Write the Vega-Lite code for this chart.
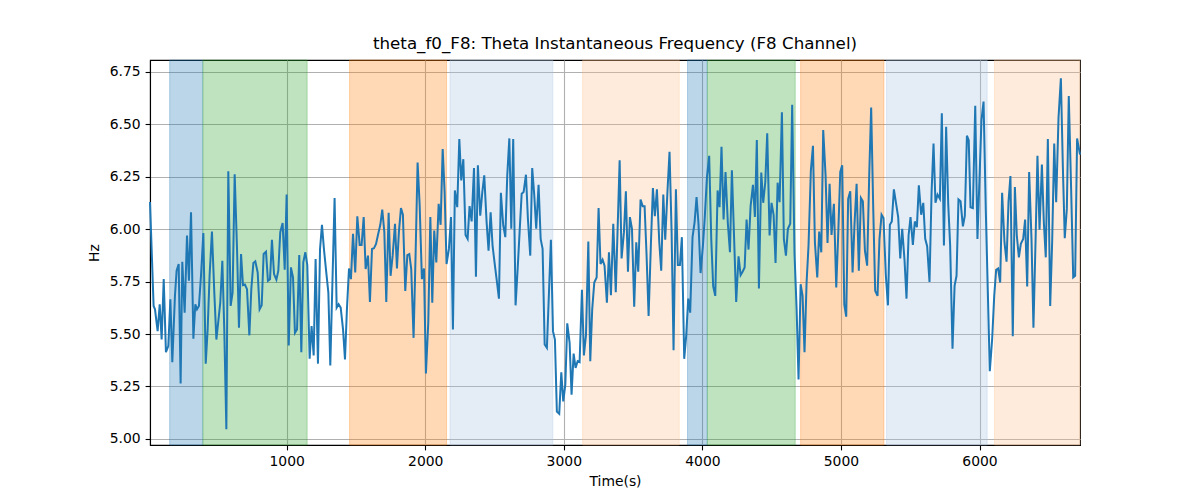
{
  "$schema": "https://vega.github.io/schema/vega-lite/v6.json",
  "description": "theta_f0_F8: Theta Instantaneous Frequency (F8 Channel)",
  "autosize": {"type": "none"},
  "width": 930,
  "height": 385,
  "padding": {"left": 150, "top": 60, "right": 120, "bottom": 55},
  "title": {
    "text": "theta_f0_F8: Theta Instantaneous Frequency (F8 Channel)",
    "fontSize": 16.7,
    "fontWeight": "normal",
    "font": "DejaVu Sans",
    "color": "black",
    "anchor": "middle",
    "offset": 7
  },
  "datasets": {
    "spans": [
      {"start": 156, "end": 394, "phase": "A"},
      {"start": 396, "end": 1148, "phase": "B"},
      {"start": 1454, "end": 2154, "phase": "C"},
      {"start": 2179, "end": 2921, "phase": "D"},
      {"start": 3136, "end": 3833, "phase": "E"},
      {"start": 3893, "end": 4035, "phase": "A"},
      {"start": 4036, "end": 4670, "phase": "B"},
      {"start": 4709, "end": 5310, "phase": "C"},
      {"start": 5329, "end": 6055, "phase": "D"},
      {"start": 6108, "end": 6725, "phase": "E"}
    ],
    "series": [
      {"t": 14, "hz": 6.13}, {"t": 40, "hz": 5.634}, {"t": 50, "hz": 5.618}, {"t": 69, "hz": 5.514},
      {"t": 84, "hz": 5.642}, {"t": 98, "hz": 5.474}, {"t": 113, "hz": 5.762}, {"t": 129, "hz": 5.414},
      {"t": 146, "hz": 5.443}, {"t": 161, "hz": 5.666}, {"t": 175, "hz": 5.366}, {"t": 194, "hz": 5.682},
      {"t": 206, "hz": 5.802}, {"t": 221, "hz": 5.834}, {"t": 235, "hz": 5.264}, {"t": 247, "hz": 5.845},
      {"t": 264, "hz": 5.602}, {"t": 281, "hz": 5.97}, {"t": 295, "hz": 5.754}, {"t": 310, "hz": 6.081},
      {"t": 327, "hz": 5.478}, {"t": 341, "hz": 5.642}, {"t": 353, "hz": 5.618}, {"t": 367, "hz": 5.634},
      {"t": 382, "hz": 5.778}, {"t": 399, "hz": 5.982}, {"t": 416, "hz": 5.359}, {"t": 430, "hz": 5.522},
      {"t": 444, "hz": 5.778}, {"t": 461, "hz": 5.989}, {"t": 478, "hz": 5.698}, {"t": 493, "hz": 5.474},
      {"t": 507, "hz": 5.562}, {"t": 521, "hz": 5.65}, {"t": 536, "hz": 5.85}, {"t": 550, "hz": 5.522},
      {"t": 565, "hz": 5.046}, {"t": 579, "hz": 6.276}, {"t": 596, "hz": 5.634}, {"t": 610, "hz": 5.698},
      {"t": 625, "hz": 6.262}, {"t": 642, "hz": 5.906}, {"t": 656, "hz": 5.53}, {"t": 671, "hz": 5.882},
      {"t": 685, "hz": 5.733}, {"t": 699, "hz": 5.736}, {"t": 714, "hz": 5.714}, {"t": 731, "hz": 5.494},
      {"t": 745, "hz": 5.714}, {"t": 760, "hz": 5.839}, {"t": 774, "hz": 5.847}, {"t": 791, "hz": 5.794},
      {"t": 805, "hz": 5.618}, {"t": 820, "hz": 5.637}, {"t": 834, "hz": 5.882}, {"t": 851, "hz": 5.893},
      {"t": 865, "hz": 5.754}, {"t": 880, "hz": 5.762}, {"t": 894, "hz": 5.95}, {"t": 909, "hz": 5.786},
      {"t": 926, "hz": 5.759}, {"t": 940, "hz": 5.802}, {"t": 954, "hz": 5.986}, {"t": 971, "hz": 6.03},
      {"t": 986, "hz": 5.807}, {"t": 1000, "hz": 6.165}, {"t": 1015, "hz": 5.446}, {"t": 1031, "hz": 5.818},
      {"t": 1046, "hz": 5.77}, {"t": 1060, "hz": 5.506}, {"t": 1075, "hz": 5.522}, {"t": 1091, "hz": 5.877},
      {"t": 1106, "hz": 5.414}, {"t": 1120, "hz": 5.842}, {"t": 1135, "hz": 5.89}, {"t": 1149, "hz": 5.829},
      {"t": 1166, "hz": 5.382}, {"t": 1180, "hz": 5.538}, {"t": 1195, "hz": 5.398}, {"t": 1209, "hz": 5.858},
      {"t": 1226, "hz": 5.359}, {"t": 1241, "hz": 5.906}, {"t": 1255, "hz": 6.021}, {"t": 1269, "hz": 5.906},
      {"t": 1286, "hz": 5.794}, {"t": 1301, "hz": 5.698}, {"t": 1315, "hz": 5.35}, {"t": 1346, "hz": 6.149},
      {"t": 1361, "hz": 5.626}, {"t": 1375, "hz": 5.642}, {"t": 1390, "hz": 5.626}, {"t": 1407, "hz": 5.522},
      {"t": 1421, "hz": 5.379}, {"t": 1435, "hz": 5.618}, {"t": 1450, "hz": 5.813}, {"t": 1464, "hz": 5.762},
      {"t": 1479, "hz": 5.978}, {"t": 1495, "hz": 5.794}, {"t": 1510, "hz": 6.062}, {"t": 1527, "hz": 5.925},
      {"t": 1541, "hz": 5.925}, {"t": 1556, "hz": 6.058}, {"t": 1570, "hz": 5.81}, {"t": 1587, "hz": 5.874},
      {"t": 1601, "hz": 5.653}, {"t": 1616, "hz": 5.906}, {"t": 1630, "hz": 5.909}, {"t": 1645, "hz": 5.93},
      {"t": 1661, "hz": 5.978}, {"t": 1676, "hz": 6.021}, {"t": 1690, "hz": 6.094}, {"t": 1705, "hz": 5.986},
      {"t": 1719, "hz": 5.653}, {"t": 1736, "hz": 6.078}, {"t": 1750, "hz": 5.778}, {"t": 1765, "hz": 5.874},
      {"t": 1782, "hz": 6.026}, {"t": 1796, "hz": 5.813}, {"t": 1810, "hz": 5.986}, {"t": 1825, "hz": 6.101},
      {"t": 1839, "hz": 6.069}, {"t": 1856, "hz": 5.706}, {"t": 1871, "hz": 5.877}, {"t": 1885, "hz": 5.882},
      {"t": 1899, "hz": 5.81}, {"t": 1916, "hz": 5.482}, {"t": 1931, "hz": 5.89}, {"t": 1945, "hz": 6.318},
      {"t": 1960, "hz": 6.113}, {"t": 1976, "hz": 5.762}, {"t": 1991, "hz": 5.813}, {"t": 2005, "hz": 5.312},
      {"t": 2022, "hz": 5.554}, {"t": 2037, "hz": 6.058}, {"t": 2051, "hz": 5.65}, {"t": 2065, "hz": 5.994},
      {"t": 2080, "hz": 5.842}, {"t": 2097, "hz": 6.121}, {"t": 2111, "hz": 6.021}, {"t": 2126, "hz": 6.382},
      {"t": 2140, "hz": 6.177}, {"t": 2154, "hz": 5.834}, {"t": 2171, "hz": 5.906}, {"t": 2186, "hz": 6.058},
      {"t": 2200, "hz": 5.522}, {"t": 2214, "hz": 6.185}, {"t": 2231, "hz": 6.105}, {"t": 2246, "hz": 6.43},
      {"t": 2260, "hz": 6.233}, {"t": 2275, "hz": 6.334}, {"t": 2291, "hz": 5.973}, {"t": 2306, "hz": 5.954},
      {"t": 2320, "hz": 6.11}, {"t": 2335, "hz": 6.037}, {"t": 2352, "hz": 6.292}, {"t": 2366, "hz": 5.773},
      {"t": 2380, "hz": 6.305}, {"t": 2397, "hz": 6.065}, {"t": 2412, "hz": 6.177}, {"t": 2426, "hz": 6.257},
      {"t": 2443, "hz": 6.034}, {"t": 2457, "hz": 5.898}, {"t": 2472, "hz": 6.081}, {"t": 2486, "hz": 5.922},
      {"t": 2503, "hz": 5.826}, {"t": 2518, "hz": 5.746}, {"t": 2532, "hz": 5.669}, {"t": 2546, "hz": 6.174},
      {"t": 2563, "hz": 6.018}, {"t": 2578, "hz": 5.962}, {"t": 2592, "hz": 6.257}, {"t": 2607, "hz": 6.433},
      {"t": 2621, "hz": 6.002}, {"t": 2635, "hz": 6.43}, {"t": 2652, "hz": 5.637}, {"t": 2667, "hz": 5.81},
      {"t": 2681, "hz": 5.986}, {"t": 2696, "hz": 6.169}, {"t": 2710, "hz": 6.177}, {"t": 2727, "hz": 6.26},
      {"t": 2741, "hz": 6.05}, {"t": 2758, "hz": 5.874}, {"t": 2772, "hz": 6.292}, {"t": 2787, "hz": 6.161},
      {"t": 2801, "hz": 6.002}, {"t": 2818, "hz": 6.212}, {"t": 2833, "hz": 5.954}, {"t": 2847, "hz": 5.906},
      {"t": 2862, "hz": 5.45}, {"t": 2878, "hz": 5.434}, {"t": 2893, "hz": 5.698}, {"t": 2907, "hz": 5.95},
      {"t": 2922, "hz": 5.514}, {"t": 2936, "hz": 5.474}, {"t": 2950, "hz": 5.131}, {"t": 2967, "hz": 5.12},
      {"t": 2982, "hz": 5.318}, {"t": 2996, "hz": 5.179}, {"t": 3011, "hz": 5.259}, {"t": 3025, "hz": 5.551},
      {"t": 3042, "hz": 5.458}, {"t": 3056, "hz": 5.211}, {"t": 3071, "hz": 5.407}, {"t": 3085, "hz": 5.339},
      {"t": 3100, "hz": 5.371}, {"t": 3114, "hz": 5.366}, {"t": 3131, "hz": 5.711}, {"t": 3145, "hz": 5.398},
      {"t": 3160, "hz": 5.494}, {"t": 3177, "hz": 5.941}, {"t": 3191, "hz": 5.371}, {"t": 3205, "hz": 5.618},
      {"t": 3220, "hz": 5.746}, {"t": 3237, "hz": 5.77}, {"t": 3251, "hz": 6.101}, {"t": 3265, "hz": 5.834},
      {"t": 3280, "hz": 5.855}, {"t": 3294, "hz": 5.826}, {"t": 3311, "hz": 5.65}, {"t": 3326, "hz": 5.89},
      {"t": 3340, "hz": 5.685}, {"t": 3357, "hz": 6.026}, {"t": 3375, "hz": 5.7}, {"t": 3403, "hz": 6.329},
      {"t": 3417, "hz": 5.861}, {"t": 3434, "hz": 5.986}, {"t": 3448, "hz": 6.181}, {"t": 3463, "hz": 5.797},
      {"t": 3477, "hz": 6.058}, {"t": 3492, "hz": 6.002}, {"t": 3508, "hz": 5.631}, {"t": 3523, "hz": 5.938},
      {"t": 3537, "hz": 5.797}, {"t": 3554, "hz": 6.142}, {"t": 3569, "hz": 6.11}, {"t": 3583, "hz": 6.11},
      {"t": 3597, "hz": 5.882}, {"t": 3612, "hz": 5.586}, {"t": 3629, "hz": 5.938}, {"t": 3643, "hz": 6.196},
      {"t": 3657, "hz": 6.062}, {"t": 3672, "hz": 6.19}, {"t": 3689, "hz": 5.938}, {"t": 3703, "hz": 5.802},
      {"t": 3718, "hz": 6.165}, {"t": 3732, "hz": 5.95}, {"t": 3749, "hz": 6.193}, {"t": 3763, "hz": 6.369},
      {"t": 3778, "hz": 5.986}, {"t": 3792, "hz": 5.423}, {"t": 3809, "hz": 6.19}, {"t": 3823, "hz": 5.829},
      {"t": 3838, "hz": 5.829}, {"t": 3852, "hz": 5.962}, {"t": 3869, "hz": 5.382}, {"t": 3883, "hz": 5.49},
      {"t": 3898, "hz": 5.669}, {"t": 3912, "hz": 5.602}, {"t": 3929, "hz": 5.962}, {"t": 3944, "hz": 6.034},
      {"t": 3958, "hz": 6.153}, {"t": 3972, "hz": 6.026}, {"t": 3987, "hz": 5.791}, {"t": 4004, "hz": 5.922},
      {"t": 4018, "hz": 6.065}, {"t": 4033, "hz": 6.249}, {"t": 4049, "hz": 6.35}, {"t": 4064, "hz": 5.954},
      {"t": 4078, "hz": 5.727}, {"t": 4093, "hz": 5.682}, {"t": 4110, "hz": 6.185}, {"t": 4124, "hz": 6.105},
      {"t": 4138, "hz": 6.393}, {"t": 4153, "hz": 6.046}, {"t": 4167, "hz": 6.273}, {"t": 4184, "hz": 6.026},
      {"t": 4199, "hz": 5.89}, {"t": 4213, "hz": 6.281}, {"t": 4244, "hz": 5.653}, {"t": 4261, "hz": 5.871},
      {"t": 4276, "hz": 5.781}, {"t": 4290, "hz": 5.797}, {"t": 4305, "hz": 5.818}, {"t": 4319, "hz": 6.046},
      {"t": 4333, "hz": 5.903}, {"t": 4348, "hz": 6.11}, {"t": 4365, "hz": 6.212}, {"t": 4379, "hz": 6.058},
      {"t": 4393, "hz": 6.425}, {"t": 4408, "hz": 5.717}, {"t": 4425, "hz": 6.27}, {"t": 4439, "hz": 6.126},
      {"t": 4454, "hz": 6.225}, {"t": 4468, "hz": 6.457}, {"t": 4485, "hz": 5.97}, {"t": 4499, "hz": 6.126},
      {"t": 4514, "hz": 6.069}, {"t": 4528, "hz": 5.839}, {"t": 4543, "hz": 6.222}, {"t": 4557, "hz": 6.129},
      {"t": 4574, "hz": 6.558}, {"t": 4588, "hz": 5.954}, {"t": 4603, "hz": 5.874}, {"t": 4617, "hz": 6.002},
      {"t": 4634, "hz": 6.026}, {"t": 4648, "hz": 6.593}, {"t": 4665, "hz": 5.882}, {"t": 4680, "hz": 5.618},
      {"t": 4694, "hz": 5.283}, {"t": 4709, "hz": 5.738}, {"t": 4723, "hz": 5.682}, {"t": 4737, "hz": 5.414},
      {"t": 4752, "hz": 5.746}, {"t": 4766, "hz": 5.922}, {"t": 4783, "hz": 6.281}, {"t": 4798, "hz": 6.398},
      {"t": 4812, "hz": 5.938}, {"t": 4829, "hz": 5.77}, {"t": 4843, "hz": 5.989}, {"t": 4858, "hz": 5.89},
      {"t": 4872, "hz": 6.473}, {"t": 4889, "hz": 6.257}, {"t": 4903, "hz": 5.935}, {"t": 4918, "hz": 6.217},
      {"t": 4932, "hz": 5.973}, {"t": 4949, "hz": 6.121}, {"t": 4966, "hz": 5.722}, {"t": 4980, "hz": 5.97},
      {"t": 4995, "hz": 6.273}, {"t": 5009, "hz": 6.305}, {"t": 5024, "hz": 5.642}, {"t": 5038, "hz": 5.583},
      {"t": 5052, "hz": 6.145}, {"t": 5067, "hz": 6.181}, {"t": 5084, "hz": 5.794}, {"t": 5098, "hz": 6.026},
      {"t": 5113, "hz": 6.217}, {"t": 5129, "hz": 5.802}, {"t": 5144, "hz": 6.149}, {"t": 5158, "hz": 6.133},
      {"t": 5173, "hz": 5.898}, {"t": 5189, "hz": 5.826}, {"t": 5204, "hz": 6.257}, {"t": 5218, "hz": 6.58},
      {"t": 5233, "hz": 6.097}, {"t": 5247, "hz": 5.706}, {"t": 5264, "hz": 5.682}, {"t": 5278, "hz": 5.954},
      {"t": 5293, "hz": 6.069}, {"t": 5307, "hz": 6.053}, {"t": 5324, "hz": 5.778}, {"t": 5339, "hz": 5.637},
      {"t": 5353, "hz": 6.021}, {"t": 5367, "hz": 6.037}, {"t": 5382, "hz": 6.19}, {"t": 5399, "hz": 6.117},
      {"t": 5413, "hz": 6.058}, {"t": 5428, "hz": 5.861}, {"t": 5442, "hz": 6.002}, {"t": 5459, "hz": 5.85},
      {"t": 5473, "hz": 5.669}, {"t": 5488, "hz": 5.97}, {"t": 5502, "hz": 6.058}, {"t": 5519, "hz": 5.925},
      {"t": 5533, "hz": 6.037}, {"t": 5548, "hz": 6.01}, {"t": 5562, "hz": 6.209}, {"t": 5579, "hz": 6.069},
      {"t": 5594, "hz": 6.126}, {"t": 5608, "hz": 5.954}, {"t": 5622, "hz": 5.919}, {"t": 5639, "hz": 5.749},
      {"t": 5654, "hz": 6.177}, {"t": 5668, "hz": 6.409}, {"t": 5682, "hz": 6.126}, {"t": 5697, "hz": 6.165},
      {"t": 5714, "hz": 6.145}, {"t": 5728, "hz": 6.553}, {"t": 5743, "hz": 5.922}, {"t": 5759, "hz": 6.489},
      {"t": 5774, "hz": 6.121}, {"t": 5788, "hz": 5.922}, {"t": 5805, "hz": 5.43}, {"t": 5820, "hz": 5.73},
      {"t": 5834, "hz": 5.778}, {"t": 5848, "hz": 6.142}, {"t": 5863, "hz": 6.133}, {"t": 5880, "hz": 6.014},
      {"t": 5894, "hz": 6.065}, {"t": 5909, "hz": 6.446}, {"t": 5922, "hz": 6.425}, {"t": 5935, "hz": 6.105},
      {"t": 5952, "hz": 6.101}, {"t": 5969, "hz": 6.589}, {"t": 5985, "hz": 5.954}, {"t": 6014, "hz": 6.521},
      {"t": 6029, "hz": 6.609}, {"t": 6045, "hz": 6.097}, {"t": 6060, "hz": 5.698}, {"t": 6074, "hz": 5.323},
      {"t": 6091, "hz": 5.474}, {"t": 6106, "hz": 5.682}, {"t": 6120, "hz": 5.807}, {"t": 6134, "hz": 5.813},
      {"t": 6149, "hz": 5.746}, {"t": 6163, "hz": 6.174}, {"t": 6180, "hz": 5.938}, {"t": 6195, "hz": 5.845},
      {"t": 6209, "hz": 6.129}, {"t": 6223, "hz": 6.254}, {"t": 6240, "hz": 5.49}, {"t": 6255, "hz": 6.201},
      {"t": 6269, "hz": 5.97}, {"t": 6284, "hz": 5.866}, {"t": 6298, "hz": 5.93}, {"t": 6315, "hz": 5.954},
      {"t": 6329, "hz": 6.046}, {"t": 6344, "hz": 5.727}, {"t": 6358, "hz": 6.273}, {"t": 6375, "hz": 5.954},
      {"t": 6389, "hz": 5.53}, {"t": 6404, "hz": 5.938}, {"t": 6418, "hz": 6.35}, {"t": 6433, "hz": 5.998},
      {"t": 6450, "hz": 6.308}, {"t": 6464, "hz": 6.034}, {"t": 6478, "hz": 5.866}, {"t": 6493, "hz": 6.43},
      {"t": 6510, "hz": 5.634}, {"t": 6524, "hz": 5.938}, {"t": 6539, "hz": 6.409}, {"t": 6553, "hz": 6.129},
      {"t": 6570, "hz": 6.532}, {"t": 6587, "hz": 6.72}, {"t": 6601, "hz": 6.305}, {"t": 6615, "hz": 5.957},
      {"t": 6630, "hz": 6.097}, {"t": 6644, "hz": 6.635}, {"t": 6661, "hz": 6.193}, {"t": 6676, "hz": 5.77},
      {"t": 6690, "hz": 5.778}, {"t": 6704, "hz": 6.433}, {"t": 6725, "hz": 6.356}
    ]
  },
  "layer": [
    {
      "data": {"name": "spans"},
      "mark": {"type": "rect", "fillOpacity": 0.3, "strokeOpacity": 0.3, "strokeWidth": 1},
      "encoding": {
        "x": {
          "field": "start",
          "type": "quantitative",
          "scale": {"domain": [14, 6725], "nice": false, "zero": false},
          "axis": {"title": "Time(s)", "values": [1000, 2000, 3000, 4000, 5000, 6000], "format": "d"}
        },
        "x2": {"field": "end"},
        "fill": {
          "field": "phase",
          "type": "nominal",
          "scale": {"domain": ["A", "B", "C", "D", "E"], "range": ["#1f77b4", "#2ca02c", "#ff7f0e", "#a5c0e1", "#ffbc87"]},
          "legend": null
        },
        "stroke": {
          "field": "phase",
          "type": "nominal",
          "scale": {"domain": ["A", "B", "C", "D", "E"], "range": ["#1f77b4", "#2ca02c", "#ff7f0e", "#a5c0e1", "#ffbc87"]},
          "legend": null
        }
      }
    },
    {
      "data": {"name": "series"},
      "mark": {"type": "line", "color": "#1f77b4", "strokeWidth": 2},
      "encoding": {
        "x": {"field": "t", "type": "quantitative", "title": "Time(s)"},
        "y": {
          "field": "hz",
          "type": "quantitative",
          "scale": {"domain": [4.971, 6.807], "nice": false, "zero": false},
          "axis": {"title": "Hz", "values": [5.0, 5.25, 5.5, 5.75, 6.0, 6.25, 6.5, 6.75], "format": ".2f"}
        }
      }
    }
  ],
  "config": {
    "font": "DejaVu Sans",
    "view": {"stroke": "black", "strokeWidth": 1.1},
    "axis": {
      "labelFont": "DejaVu Sans",
      "titleFont": "DejaVu Sans",
      "labelFontSize": 13.9,
      "titleFontSize": 13.9,
      "titleFontWeight": "normal",
      "labelColor": "black",
      "titleColor": "black",
      "tickColor": "black",
      "domainColor": "black",
      "domainWidth": 1.1,
      "tickSize": 4.9,
      "tickWidth": 1.1,
      "labelPadding": 4.9,
      "gridColor": "#b0b0b0",
      "gridWidth": 1.1,
      "gridOpacity": 1,
      "titlePadding": 6
    },
    "axisY": {"titlePadding": 8}
  }
}
